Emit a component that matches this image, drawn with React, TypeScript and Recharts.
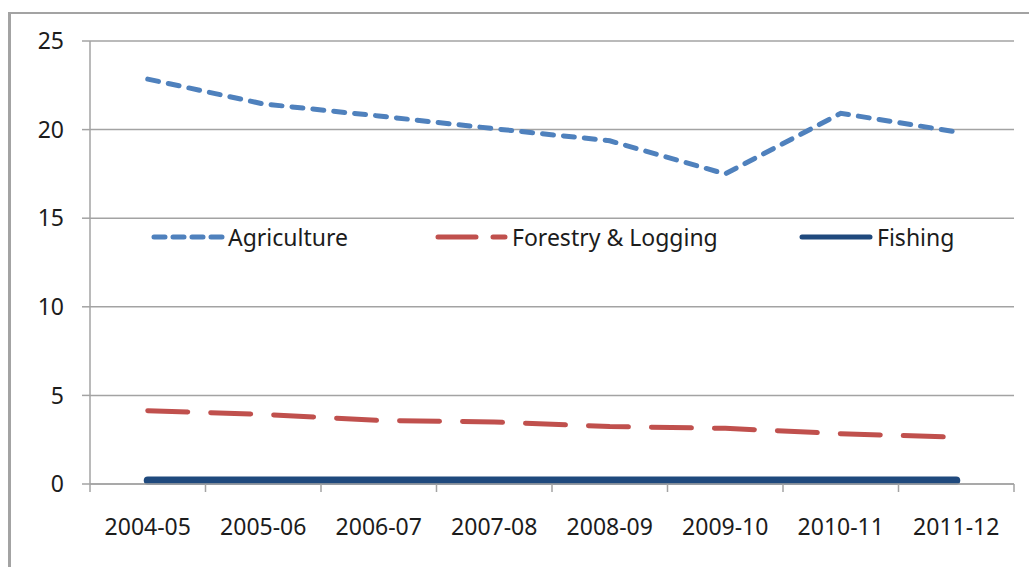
import React from "react";
import { ComposedChart, Line, XAxis, YAxis, CartesianGrid } from "recharts";

const YEARS = ["2004-05", "2005-06", "2006-07", "2007-08", "2008-09", "2009-10", "2010-11", "2011-12"];
const AGRICULTURE = [22.85, 21.45, 20.77, 20.05, 19.37, 17.5, 20.92, 19.87];
const FORESTRY = [4.14, 3.93, 3.59, 3.5, 3.24, 3.14, 2.84, 2.64];
const FISHING = [0.2, 0.2, 0.2, 0.2, 0.2, 0.2, 0.2, 0.2];
const Y_TICKS = [0, 5, 10, 15, 20, 25];
const SERIES_NAMES = ["Agriculture", "Forestry & Logging", "Fishing"];

const data = YEARS.map((year, i) => ({
  year,
  agriculture: AGRICULTURE[i],
  forestry: FORESTRY[i],
  fishing: FISHING[i],
}));

const W = 1029;
const H = 567;
const MARGIN = { top: 41, right: 15, left: 0, bottom: 23 };
const Y_AXIS_W = 90;
const X_AXIS_H = 60;
const PLOT_W = W - MARGIN.left - MARGIN.right - Y_AXIS_W;
const BAND = PLOT_W / YEARS.length;

const AXIS_COLOR = "#a3a3a3";
const TEXT_COLOR = "#1c1c1c";
const FONT = "'Noto Sans', sans-serif";
const C_AGRI = "#4F81BD";
const C_FOREST = "#C0504D";
const C_FISH = "#1F497D";

const XTick = (props: any) => {
  const { x, y, payload, index } = props;
  const half = BAND / 2;
  return (
    <g>
      <line x1={x - half} x2={x - half} y1={y} y2={y + 8} stroke={AXIS_COLOR} strokeWidth={1.5} />
      {index === YEARS.length - 1 && (
        <line x1={x + half} x2={x + half} y1={y} y2={y + 8} stroke={AXIS_COLOR} strokeWidth={1.5} />
      )}
      <text x={x} y={y + 51} textAnchor="middle" fill={TEXT_COLOR} fontSize={23} fontFamily={FONT}>
        {payload.value}
      </text>
    </g>
  );
};

const LegendItem = ({ left, kind, label }: { left: number; kind: string; label: string }) => {
  let icon: React.ReactNode;
  if (kind === "agri") {
    icon = <line x1={4} x2={72} y1={8} y2={8} stroke={C_AGRI} strokeWidth={5} strokeDasharray="11 8" strokeLinecap="round" />;
  } else if (kind === "forest") {
    icon = <line x1={4} x2={71} y1={8} y2={8} stroke={C_FOREST} strokeWidth={5} strokeDasharray="38 17" strokeLinecap="round" />;
  } else {
    icon = <line x1={3} x2={71} y1={8} y2={8} stroke={C_FISH} strokeWidth={5} strokeLinecap="round" />;
  }
  return (
    <div style={{ position: "absolute", left, top: 0, display: "flex", alignItems: "center", height: 30 }}>
      <svg width={76} height={16} style={{ display: "block" }}>{icon}</svg>
      <span style={{ fontFamily: FONT, fontSize: 23, color: TEXT_COLOR, marginLeft: 2, whiteSpace: "nowrap" }}>{label}</span>
    </div>
  );
};

export default function App() {
  return (
    <div style={{ position: "absolute", left: 0, top: 0, width: W, height: H, overflow: "hidden", background: "#fff" }}>
      <div
        style={{
          position: "absolute",
          left: 8,
          top: 12,
          width: W + 20,
          height: H + 20,
          borderLeft: `3px solid ${AXIS_COLOR}`,
          borderTop: `2px solid ${AXIS_COLOR}`,
        }}
      />
      <div style={{ position: "absolute", left: 0, top: 0 }}>
        <ComposedChart width={W} height={H} data={data} margin={MARGIN}>
          <CartesianGrid vertical={false} stroke={AXIS_COLOR} strokeWidth={1.5} />
          <XAxis
            dataKey="year"
            scale="band"
            height={X_AXIS_H}
            interval={0}
            tickSize={0}
            tickMargin={0}
            tickLine={false}
            axisLine={{ stroke: AXIS_COLOR, strokeWidth: 1.5 }}
            tick={<XTick />}
          />
          <YAxis
            width={Y_AXIS_W}
            domain={[0, 25]}
            ticks={Y_TICKS}
            interval={0}
            tickSize={8}
            tickMargin={18}
            axisLine={{ stroke: AXIS_COLOR, strokeWidth: 1.5 }}
            tickLine={{ stroke: AXIS_COLOR, strokeWidth: 1.5 }}
            tick={{ fill: TEXT_COLOR, fontSize: 23, fontFamily: FONT }}
          />
          <Line
            dataKey="fishing"
            name={SERIES_NAMES[2]}
            stroke={C_FISH}
            strokeWidth={8}
            strokeLinecap="round"
            dot={false}
            activeDot={false}
            type="linear"
            isAnimationActive={false}
          />
          <Line
            dataKey="forestry"
            name={SERIES_NAMES[1]}
            stroke={C_FOREST}
            strokeWidth={5}
            strokeDasharray="40 23"
            strokeLinecap="round"
            dot={false}
            activeDot={false}
            type="linear"
            isAnimationActive={false}
          />
          <Line
            dataKey="agriculture"
            name={SERIES_NAMES[0]}
            stroke={C_AGRI}
            strokeWidth={5}
            strokeDasharray="11 10"
            strokeLinecap="round"
            dot={false}
            activeDot={false}
            type="linear"
            isAnimationActive={false}
          />
        </ComposedChart>
      </div>
      <div style={{ position: "absolute", left: 0, top: 222, width: W, height: 30 }}>
        <LegendItem left={150} kind="agri" label={SERIES_NAMES[0]} />
        <LegendItem left={434} kind="forest" label={SERIES_NAMES[1]} />
        <LegendItem left={799} kind="fish" label={SERIES_NAMES[2]} />
      </div>
    </div>
  );
}
